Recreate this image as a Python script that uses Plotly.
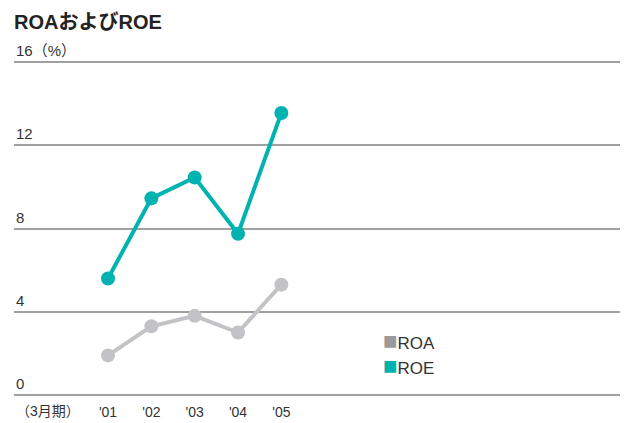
import plotly.graph_objects as go

years = ["'01", "'02", "'03", "'04", "'05"]
roa = [1.9, 3.3, 3.8, 3.0, 5.3]
roe = [5.6, 9.45, 10.45, 7.75, 13.55]
y_ticks = [0, 4, 8, 12, 16]
y_labels = ["0", "4", "8", "12", "16（%）"]

FONT = "Liberation Sans Narrow, Liberation Sans, Noto Sans CJK JP, sans-serif"
TEAL = "#00b3b0"
LGRAY = "#c3c3c7"

# page body adds an 8px offset; figure is sized to fill the window exactly
W, H = 620, 415

fig = go.Figure()
fig.add_trace(go.Scatter(x=years, y=roa, mode="lines+markers",
                         line=dict(color=LGRAY, width=4),
                         marker=dict(size=14, color=LGRAY), showlegend=False))
fig.add_trace(go.Scatter(x=years, y=roe, mode="lines+markers",
                         line=dict(color=TEAL, width=4),
                         marker=dict(size=14, color=TEAL), showlegend=False))

annotations = []
for v, t in zip(y_ticks, y_labels):
    annotations.append(dict(x=0, xref="paper", y=v, yref="y", text=t,
                            xanchor="left", yanchor="bottom", yshift=1, showarrow=False,
                            font=dict(family=FONT, size=15, color="#333")))
annotations.append(dict(x=0, xref="paper", y=0, yref="y", text="（3月期）",
                        xanchor="left", yanchor="middle", yshift=-16, showarrow=False,
                        font=dict(family=FONT, size=14, color="#333")))
legend_items = [("ROA", "#9a9a9c", 2.6), ("ROE", TEAL, 1.4)]
for name, col, yv in legend_items:
    annotations.append(dict(x=0.598, xref="paper", y=yv, yref="y",
                            text=f"<span style='color:{col};font-size:24px'>■</span>{name}",
                            xanchor="left", yanchor="middle", showarrow=False,
                            font=dict(family=FONT, size=17, color="#333")))

fig.update_layout(
    width=W, height=H,
    margin=dict(l=6, r=0, t=52, b=26),
    paper_bgcolor="white", plot_bgcolor="white",
    title=dict(text="<b>ROAおよびROE</b>", x=6/W, xanchor="left", y=1-14/H, yanchor="middle",
               font=dict(family="Liberation Sans, Noto Sans CJK JP, sans-serif", size=20, color="#222")),
    xaxis=dict(type="category", range=[-2.17, 12.0], showgrid=False, zeroline=False,
               showline=False, ticks="", ticklabelstandoff=5,
               tickfont=dict(family=FONT, size=14, color="#333")),
    yaxis=dict(range=[-0.1, 16.1], tickvals=y_ticks, showticklabels=False, showgrid=True,
               gridcolor="#a0a0a0", gridwidth=1.5, zeroline=False, showline=False),
    annotations=annotations,
)
fig.write_html("out.html")
